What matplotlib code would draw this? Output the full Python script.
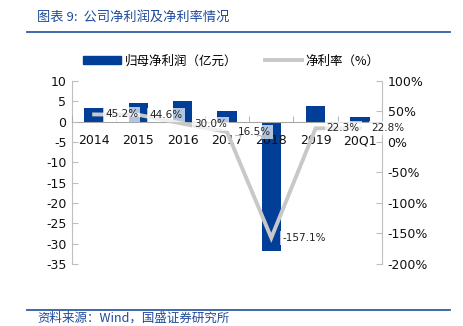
import matplotlib.pyplot as plt
from matplotlib.lines import Line2D
from matplotlib.patches import Patch
import numpy as np

plt.rcParams['font.family'] = ['DejaVu Sans', 'Noto Sans CJK SC']
plt.rcParams['axes.unicode_minus'] = False

categories = ["2014", "2015", "2016", "2017", "2018", "2019", "20Q1"]
net_profit = [3.4, 4.7, 5.2, 2.7, -31.9, 3.8, 1.1]      # 归母净利润（亿元）
net_margin = [45.2, 44.6, 30.0, 16.5, -157.1, 22.3, 22.8]  # 净利率（%）

bar_color = "#003E98"
line_color = "#C8C8C8"
title_color = "#1F4A9A"
axis_color = "#BFBFBF"

fig = plt.figure(figsize=(4.63, 3.26), dpi=100)
ax = fig.add_axes([72/463, 1-264/326, 310/463, 183/326])
ax2 = ax.twinx()

x = np.arange(len(categories))
ax.bar(x, net_profit, width=0.44, color=bar_color, zorder=2)
ax.set_xlim(-0.5, len(categories)-0.5)
ax.set_ylim(-35, 10)
ax.set_yticks(np.arange(-35, 11, 5))
ax.set_axisbelow(False)

ax2.plot(x, net_margin, color=line_color, lw=2.8, solid_joinstyle='miter', zorder=3)
ax2.set_ylim(-200, 100)
ax2.set_yticks(np.arange(-200, 101, 50))
ax2.set_yticklabels([f"{v}%" for v in range(-200, 101, 50)])

for xi, v in zip(x, net_margin):
    ax2.annotate(f"{v:.1f}%", (xi, v), xytext=(8, 0), textcoords='offset points',
                 ha='left', va='center', fontsize=7.5, color='#222222', zorder=5,
                 bbox=dict(boxstyle='square,pad=0.2', fc='white', ec='none', alpha=0.7))

# axis styling
for a in (ax, ax2):
    a.spines['top'].set_visible(False)
    a.spines['left'].set_color(axis_color)
    a.spines['right'].set_color(axis_color)
    a.tick_params(axis='y', direction='in', length=4, color=axis_color,
                  labelsize=9, labelcolor='#111111', pad=4)
ax2.spines['bottom'].set_visible(False)
ax.spines['bottom'].set_position(('data', 0))
ax.spines['bottom'].set_color('#A6A6A6')
ax.spines['right'].set_visible(False)
ax2.spines['left'].set_visible(False)
ax.set_xticks(x)
ax.set_xticklabels(categories)
ax.set_xticks(np.arange(-0.5, len(categories), 1), minor=True)
ax.tick_params(axis='x', which='major', length=0, labelsize=9, labelcolor='#111111', pad=9)
ax.tick_params(axis='x', which='minor', direction='in', length=4, color='#A6A6A6')
ax.set_zorder(1)
ax2.set_zorder(2)
ax2.patch.set_visible(False)

handles = [Patch(color=bar_color, label="归母净利润（亿元）"),
           Line2D([], [], color=line_color, lw=2.8, label="净利率（%）")]
fig.legend(handles=handles, loc='center', bbox_to_anchor=(0.5, 1-61/326), ncol=2,
           frameon=False, handlelength=3.0, handleheight=0.6,
           columnspacing=2.2, handletextpad=0.3,
           prop={'family': ['Noto Sans CJK SC'], 'size': 9})

# title, rules and source
fig.text(37/463, 1-17/326, "图表 9:  公司净利润及净利率情况", color=title_color,
         fontsize=9.5, va='center', ha='left', family=['Noto Sans CJK SC'], style='italic')
fig.add_artist(Line2D([27/463, 450/463], [1-32/326, 1-32/326], color="#2F5DA8", lw=1.3))
fig.add_artist(Line2D([27/463, 450/463], [1-310/326, 1-310/326], color="#2F5DA8", lw=1.3))
fig.text(37/463, 1-318/326, "资料来源：Wind，国盛证券研究所", color=title_color,
         fontsize=9, va='center', ha='left', family=['Noto Sans CJK SC'], style='italic')

fig.savefig("out.png", dpi=100)
